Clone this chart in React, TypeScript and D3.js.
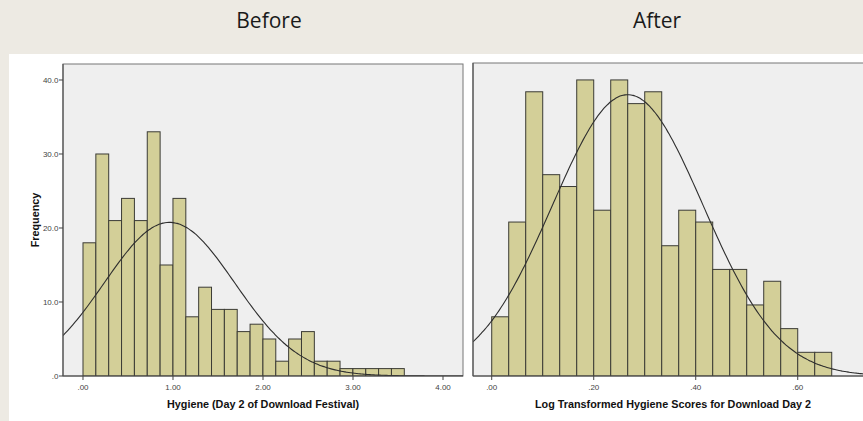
import * as d3 from 'd3';
import { useEffect, useRef } from 'react';

// Before: hygiene day 2 (raw)
const beforeCounts = [18, 30, 21, 24, 21, 33, 15, 24, 8, 12, 9, 9, 6, 7, 5, 2, 5, 6, 2, 2, 1, 1, 1, 1, 1];
const beforeBinWidth = 0.1428;
const beforeMean = 0.9609;
const beforeSd = 0.7245;
const beforeXTicks = [0, 1, 2, 3, 4];
const beforeXLabels = ['.00', '1.00', '2.00', '3.00', '4.00'];
const beforeYTicks = [0, 10, 20, 30, 40];
const beforeYLabels = ['.0', '10.0', '20.0', '30.0', '40.0'];

// After: log transformed
const afterCounts = [5, 13, 24, 17, 16, 25, 14, 25, 23, 24, 11, 14, 13, 9, 9, 6, 8, 4, 2, 2];
const afterBinWidth = 1 / 30;
const afterMean = 0.2667;
const afterSd = 0.1478;
const afterXTicks = [0, 0.2, 0.4, 0.6];
const afterXLabels = ['.00', '.20', '.40', '.60'];

const panelTitles = ['Before', 'After'];
const axisTitles = ['Hygiene (Day 2 of Download Festival)', 'Log Transformed Hygiene Scores for Download Day 2'];

const W = 863;
const H = 421;
const BAR_FILL = '#d3cf98';
const BAR_STROKE = '#3b3b35';
const FONT = 'Liberation Sans, Arial, sans-serif';

const normalCurve = (xs: number[], mean: number, sd: number, n: number, bw: number) =>
  xs.map(x => ({ x, y: (n * bw) / (sd * Math.sqrt(2 * Math.PI)) * Math.exp(-0.5 * ((x - mean) / sd) ** 2) }));

const App = () => {
  const ref = useRef<SVGSVGElement>(null);

  useEffect(() => {
    const svg = d3.select(ref.current);
    svg.selectAll('*').remove();

    // page background
    svg.append('rect').attr('width', W).attr('height', H).attr('fill', '#edeae3');
    svg.append('rect').attr('x', 9).attr('y', 54).attr('width', W - 9).attr('height', H - 54).attr('fill', '#ffffff');

    // titles
    [269, 657].forEach((cx, i) => {
      svg.append('text')
        .attr('x', cx).attr('y', 28)
        .attr('text-anchor', 'middle')
        .attr('font-family', 'Open Sans, sans-serif')
        .attr('font-size', 21)
        .attr('fill', '#1a1a1a')
        .text(panelTitles[i]);
    });

    const drawPanel = (opts: {
      left: number; right: number; top: number; bottom: number;
      xDomain: [number, number]; yMax: number;
      counts: number[]; bw: number; mean: number; sd: number;
      xTicks: number[]; xLabels: string[];
      yTicks?: number[]; yLabels?: string[];
      title: string; showFreq: boolean; id: string;
    }) => {
      const x = d3.scaleLinear().domain(opts.xDomain).range([opts.left, opts.right]);
      const y = d3.scaleLinear().domain([0, opts.yMax]).range([opts.bottom, opts.top]);
      const n = d3.sum(opts.counts);

      const clipId = `clip-${opts.id}`;
      svg.append('clipPath').attr('id', clipId)
        .append('rect')
        .attr('x', opts.left).attr('y', opts.top)
        .attr('width', opts.right - opts.left).attr('height', opts.bottom - opts.top);

      // plot background
      svg.append('rect')
        .attr('x', opts.left).attr('y', opts.top)
        .attr('width', opts.right - opts.left).attr('height', opts.bottom - opts.top)
        .attr('fill', '#efefef')
        .attr('stroke', '#777')
        .attr('stroke-width', 1);

      const g = svg.append('g').attr('clip-path', `url(#${clipId})`);

      // bars
      g.selectAll('rect.bar')
        .data(opts.counts)
        .enter()
        .append('rect')
        .attr('class', 'bar')
        .attr('x', (_, i) => x(i * opts.bw))
        .attr('y', d => y(d))
        .attr('width', (_, i) => x((i + 1) * opts.bw) - x(i * opts.bw))
        .attr('height', d => y(0) - y(d))
        .attr('fill', BAR_FILL)
        .attr('stroke', BAR_STROKE)
        .attr('stroke-width', 1);

      // normal curve
      const xs = d3.range(0, 201).map(i => opts.xDomain[0] + (opts.xDomain[1] - opts.xDomain[0]) * i / 200);
      const pts = normalCurve(xs, opts.mean, opts.sd, n, opts.bw);
      const line = d3.line<{ x: number; y: number }>()
        .x(d => x(d.x))
        .y(d => y(d.y))
        .curve(d3.curveMonotoneX);
      g.append('path')
        .datum(pts)
        .attr('fill', 'none')
        .attr('stroke', '#2e2e2e')
        .attr('stroke-width', 1.1)
        .attr('d', line);

      // axes lines
      svg.append('line')
        .attr('x1', opts.left).attr('x2', opts.right)
        .attr('y1', opts.bottom).attr('y2', opts.bottom)
        .attr('stroke', '#444').attr('stroke-width', 1.2);
      svg.append('line')
        .attr('x1', opts.left).attr('x2', opts.left)
        .attr('y1', opts.top).attr('y2', opts.bottom)
        .attr('stroke', '#555').attr('stroke-width', 1.2);

      // x ticks
      opts.xTicks.forEach((t, i) => {
        svg.append('line')
          .attr('x1', x(t)).attr('x2', x(t))
          .attr('y1', opts.bottom).attr('y2', opts.bottom + 4)
          .attr('stroke', '#444');
        svg.append('text')
          .attr('x', x(t)).attr('y', opts.bottom + 13.5)
          .attr('text-anchor', 'middle')
          .attr('font-family', FONT)
          .attr('font-size', 8)
          .attr('fill', '#444')
          .text(opts.xLabels[i]);
      });

      // y ticks
      if (opts.yTicks && opts.yLabels) {
        opts.yTicks.forEach((t, i) => {
          svg.append('line')
            .attr('x1', opts.left - 4).attr('x2', opts.left)
            .attr('y1', y(t)).attr('y2', y(t))
            .attr('stroke', '#444');
          svg.append('text')
            .attr('x', opts.left - 4.5).attr('y', y(t) + 2.9)
            .attr('text-anchor', 'end')
            .attr('font-family', FONT)
            .attr('font-size', 8)
            .attr('fill', '#444')
            .text(opts.yLabels![i]);
        });
      }

      // axis title
      svg.append('text')
        .attr('x', (opts.left + opts.right) / 2).attr('y', opts.bottom + 32)
        .attr('text-anchor', 'middle')
        .attr('font-family', FONT)
        .attr('font-weight', 'bold')
        .attr('font-size', 10.8)
        .attr('fill', '#111')
        .text(opts.title);

      if (opts.showFreq) {
        svg.append('text')
          .attr('transform', `translate(39,${(opts.top + opts.bottom) / 2}) rotate(-90)`)
          .attr('text-anchor', 'middle')
          .attr('font-family', FONT)
          .attr('font-weight', 'bold')
          .attr('font-size', 10.8)
          .attr('fill', '#111')
          .text('Frequency');
      }
    };

    drawPanel({
      left: 63, right: 463, top: 64, bottom: 376,
      xDomain: [-0.2222, 4.2222], yMax: 42.16,
      counts: beforeCounts, bw: beforeBinWidth, mean: beforeMean, sd: beforeSd,
      xTicks: beforeXTicks, xLabels: beforeXLabels,
      yTicks: beforeYTicks, yLabels: beforeYLabels,
      title: axisTitles[0], showFreq: true, id: 'before',
    });

    drawPanel({
      left: 473, right: 873, top: 63, bottom: 376,
      xDomain: [-0.0367, 0.7476], yMax: 26.43,
      counts: afterCounts, bw: afterBinWidth, mean: afterMean, sd: afterSd,
      xTicks: afterXTicks, xLabels: afterXLabels,
      title: axisTitles[1], showFreq: false, id: 'after',
    });
  }, []);

  return (
    <div style={{ position: 'fixed', left: 0, top: 0, width: W, height: H, overflow: 'hidden' }}>
      <svg ref={ref} width={W} height={H} style={{ display: 'block' }}></svg>
    </div>
  );
};

export default App;
